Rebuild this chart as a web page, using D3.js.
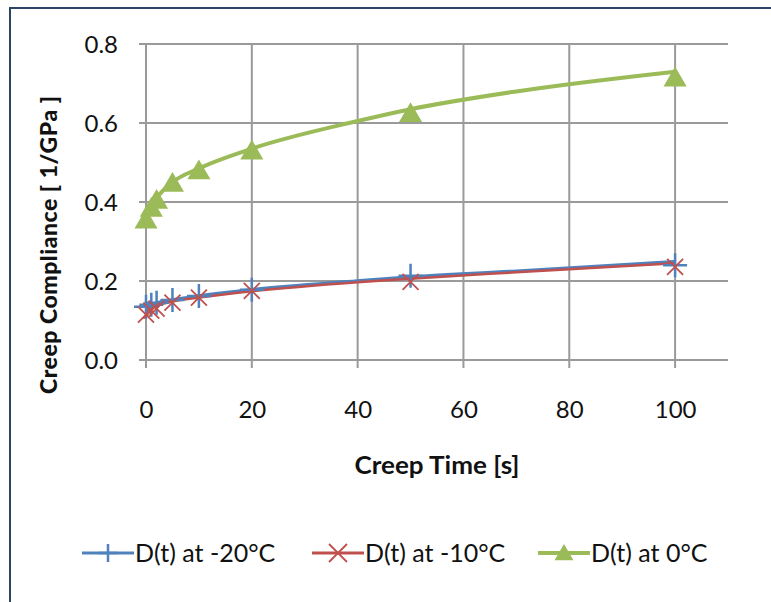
<!DOCTYPE html>
<meta charset="utf-8">
<script src="https://d3js.org/d3.v7.min.js"></script>
<style>
  body { margin: 0; background: #fff; }
  text { font-family: Lato, "Open Sans", sans-serif; fill: #111; }
</style>
<div id="chart"></div>
<script>

// creep times [s]
var times = [0, 1, 2, 5, 10, 20, 50, 100];

// measured creep compliance [1/GPa]
var dMinus20 = [0.135, 0.14, 0.145, 0.152, 0.162, 0.178, 0.213, 0.24];
var dMinus10 = [0.115, 0.125, 0.13, 0.145, 0.158, 0.175, 0.198, 0.236];
var dZero    = [0.355, 0.385, 0.405, 0.448, 0.48, 0.53, 0.625, 0.715];

// trendlines
var fitTimes     = [0, 1, 2, 5, 10, 20, 40, 50, 70, 100];
var fitMinus20   = [0.13, 0.14, 0.144, 0.152, 0.162, 0.178, 0.2, 0.21, 0.225, 0.249];
var fitMinus10   = [0.122, 0.133, 0.138, 0.148, 0.158, 0.174, 0.197, 0.206, 0.222, 0.245];
var fitZero      = [0.355, 0.39, 0.41, 0.45, 0.485, 0.535, 0.605, 0.635, 0.68, 0.73];

var xTicks = [0, 20, 40, 60, 80, 100];
var yTicks = [0, 0.2, 0.4, 0.6, 0.8];

var seriesNames = ["D(t) at -20\u00B0C", "D(t) at -10\u00B0C", "D(t) at 0\u00B0C"];
var colors = ["#4f81bd", "#c0504d", "#9bbb59"];

var W = 771, H = 602;
var margin = {top: 44, right: 43, bottom: 242, left: 146};
var width = W - margin.left - margin.right,
    height = H - margin.top - margin.bottom;

var svg = d3.select("#chart").append("svg")
    .attr("width", W)
    .attr("height", H);

// outer chart frame
svg.append("rect")
    .attr("x", 10).attr("y", 8)
    .attr("width", W + 10).attr("height", H + 10)
    .attr("fill", "none")
    .attr("stroke", "#2e4466")
    .attr("stroke-width", 2);

var g = svg.append("g")
    .attr("transform", "translate(" + margin.left + "," + margin.top + ")");

var x = d3.scaleLinear().domain([0, 110]).range([0, width]);
var y = d3.scaleLinear().domain([0, 0.8]).range([height, 0]);

// horizontal gridlines (with outside tick on the left)
g.append("g")
  .selectAll("line")
  .data(yTicks)
  .join("line")
    .attr("x1", -7).attr("x2", width)
    .attr("y1", function(d) { return y(d); })
    .attr("y2", function(d) { return y(d); })
    .attr("stroke", "#9a9a9a")
    .attr("stroke-width", 2);

// vertical gridlines (with outside tick at the bottom)
g.append("g")
  .selectAll("line")
  .data(xTicks)
  .join("line")
    .attr("x1", function(d) { return x(d); })
    .attr("x2", function(d) { return x(d); })
    .attr("y1", 0).attr("y2", height + 8)
    .attr("stroke", "#9a9a9a")
    .attr("stroke-width", 2);

// tick labels through d3 axes, with axis lines hidden
var yAxis = g.append("g")
    .call(d3.axisLeft(y).tickValues(yTicks).tickFormat(d3.format(".1f")).tickSize(0).tickPadding(28));
var xAxis = g.append("g")
    .attr("transform", "translate(0," + height + ")")
    .call(d3.axisBottom(x).tickValues(xTicks).tickSize(0).tickPadding(58));
[yAxis, xAxis].forEach(function(a) {
  a.select(".domain").remove();
  a.selectAll("text")
    .style("font-family", "Lato, sans-serif")
    .style("font-size", "24px")
    .attr("fill", "#111");
});
xAxis.selectAll("text").attr("dy", "0");
yAxis.selectAll("text").attr("dy", "0.36em");

// axis titles
svg.append("text")
    .attr("x", 437).attr("y", 474)
    .attr("text-anchor", "middle")
    .style("font-size", "24px")
    .style("font-weight", "bold")
    .attr("textLength", 165)
    .attr("lengthAdjust", "spacingAndGlyphs")
    .text("Creep Time [s]");

svg.append("text")
    .attr("transform", "translate(57,245) rotate(-90)")
    .attr("text-anchor", "middle")
    .style("font-size", "23px")
    .style("font-weight", "900")
    .attr("textLength", 298)
    .attr("lengthAdjust", "spacing")
    .text("Creep Compliance  [ 1/GPa ]");

// trendlines
var fits = [fitMinus20, fitMinus10, fitZero];
var widths = [3.5, 2.5, 4];
var line = d3.line()
    .x(function(d) { return x(d[0]); })
    .y(function(d) { return y(d[1]); })
    .curve(d3.curveMonotoneX);

fits.forEach(function(f, i) {
  g.append("path")
    .datum(fitTimes.map(function(t, j) { return [t, f[j]]; }))
    .attr("fill", "none")
    .attr("stroke", colors[i])
    .attr("stroke-width", widths[i])
    .attr("d", line);
});

// markers
function plus(sel, s) {
  sel.append("path").attr("d", "M" + (-s) + ",0H" + s + "M0," + (-s) + "V" + s)
    .attr("stroke", colors[0]).attr("stroke-width", 2.5);
}
function cross(sel, s) {
  sel.append("path").attr("d", "M" + (-s) + "," + (-s) + "L" + s + "," + s + "M" + (-s) + "," + s + "L" + s + "," + (-s))
    .attr("stroke", colors[1]).attr("stroke-width", 1.8);
}
function tri(sel, s) {
  sel.append("path").attr("d", "M0," + (-s) + "L" + (s * 1.05) + "," + (s * 0.8) + "L" + (-s * 1.05) + "," + (s * 0.8) + "Z")
    .attr("fill", colors[2]);
}
var markerFns = [plus, cross, tri];
var values = [dMinus20, dMinus10, dZero];
var sizes = [12, 8, 11];

values.forEach(function(vals, i) {
  g.append("g")
    .selectAll("g")
    .data(times.map(function(t, j) { return [t, vals[j]]; }))
    .join("g")
      .attr("transform", function(d) { return "translate(" + x(d[0]) + "," + y(d[1]) + ")"; })
      .each(function() { markerFns[i](d3.select(this), sizes[i]); });
});

// legend
var legendX = [82, 312, 538];
var legend = svg.append("g");
seriesNames.forEach(function(name, i) {
  var lg = legend.append("g").attr("transform", "translate(" + legendX[i] + ",553)");
  lg.append("line").attr("x1", 0).attr("x2", 52)
    .attr("stroke", colors[i]).attr("stroke-width", i == 2 ? 4 : 3);
  var m = lg.append("g").attr("transform", "translate(26,0)");
  markerFns[i](m, 9);
  lg.append("text")
    .attr("x", 53).attr("y", 0).attr("dy", "0.36em")
    .style("font-size", "25px")
    .text(name);
});

</script>
